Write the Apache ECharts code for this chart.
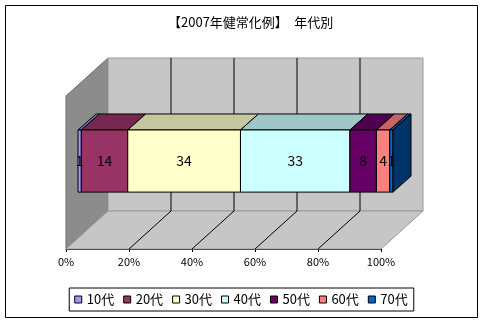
<!DOCTYPE html>
<html><head><meta charset="utf-8">
<script src="https://cdn.jsdelivr.net/npm/echarts@6/dist/echarts.min.js"></script>
<style>html,body{margin:0;padding:0;background:#fff}#c{width:482px;height:322px}</style>
</head><body><div id="c"></div>
<script>
const categories = ['10代','20代','30代','40代','50代','60代','70代'];
const values = [1, 14, 34, 33, 8, 4, 1];
const tickLabels = ['0%','20%','40%','60%','80%','100%'];
const colors = ['#9999FF','#993366','#FFFFCC','#CCFFFF','#660066','#FF8080','#0066CC'];
const titleText = '【2007年健常化例】　年代別';

const FONT = "'Noto Sans CJK JP', 'Noto Sans', sans-serif";
const total = values.reduce((a, b) => a + b, 0);
let acc = 0;
const segments = values.map(v => { const s = acc / total * 100; acc += v; return [s, acc / total * 100, v]; });

const WALL_D = [42, -38];
const BAR_SHIFT = [12, -11];
const BAR_D = [18, -16];
const BAR_Y = [0.30, 0.706];

function shade(hex, f) {
  const n = parseInt(hex.slice(1), 16);
  const r = Math.round(((n >> 16) & 255) * f), g = Math.round(((n >> 8) & 255) * f), b = Math.round((n & 255) * f);
  return 'rgb(' + r + ',' + g + ',' + b + ')';
}
function add(p, d) { return [p[0] + d[0], p[1] + d[1]]; }

const wallSeries = {
  type: 'custom', name: '_walls', z: 1, silent: true, legendHoverLink: false,
  data: [[0, 0]],
  renderItem: function (params, api) {
    const bl = api.coord([0, 0]), br = api.coord([100, 0]), tl = api.coord([0, 1]), tr = api.coord([100, 1]);
    const ch = [];
    ch.push({ type: 'polygon', shape: { points: [bl, tl, add(tl, WALL_D), add(bl, WALL_D)] }, style: { fill: '#8c8c8c', stroke: '#6a6a6a', lineWidth: 1 } });
    ch.push({ type: 'polygon', shape: { points: [add(bl, WALL_D), add(tl, WALL_D), add(tr, WALL_D), add(br, WALL_D)] }, style: { fill: '#c6c6c6', stroke: '#9a9a9a', lineWidth: 1 } });
    ch.push({ type: 'polygon', shape: { points: [bl, br, add(br, WALL_D), add(bl, WALL_D)] }, style: { fill: '#c6c6c6', stroke: '#9a9a9a', lineWidth: 1 } });
    for (let k = 1; k < tickLabels.length - 1; k++) {
      const v = k * 20;
      const f0 = api.coord([v, 0]), f1 = api.coord([v, 1]);
      ch.push({ type: 'line', shape: { x1: f0[0], y1: f0[1], x2: f0[0] + WALL_D[0], y2: f0[1] + WALL_D[1] }, style: { stroke: '#000', lineWidth: 1 } });
      ch.push({ type: 'line', shape: { x1: f0[0] + WALL_D[0], y1: f0[1] + WALL_D[1], x2: f1[0] + WALL_D[0], y2: f1[1] + WALL_D[1] }, style: { stroke: '#000', lineWidth: 1 } });
    }
    return { type: 'group', children: ch };
  }
};

const barSeries = categories.map((name, i) => ({
  type: 'custom', name: name, z: 3,
  itemStyle: { color: colors[i] },
  encode: { x: [0, 1] },
  data: [segments[i]],
  renderItem: function (params, api) {
    const s = api.value(0), e = api.value(1), v = api.value(2);
    const a = api.coord([s, BAR_Y[1]]), b = api.coord([e, BAR_Y[0]]);
    const x0 = a[0] + BAR_SHIFT[0], y0 = a[1] + BAR_SHIFT[1];
    const x1 = b[0] + BAR_SHIFT[0], y1 = b[1] + BAR_SHIFT[1];
    const dx = BAR_D[0], dy = BAR_D[1];
    const ch = [];
    ch.push({ type: 'polygon', shape: { points: [[x0, y0], [x1, y0], [x1 + dx, y0 + dy], [x0 + dx, y0 + dy]] }, style: { fill: shade(colors[i], 0.78), stroke: '#000', lineWidth: 1 } });
    ch.push({ type: 'rect', shape: { x: x0, y: y0, width: x1 - x0, height: y1 - y0 }, style: { fill: colors[i], stroke: '#000', lineWidth: 1 } });
    if (i === categories.length - 1) {
      ch.push({ type: 'polygon', shape: { points: [[x1, y0], [x1 + dx, y0 + dy], [x1 + dx, y1 + dy], [x1, y1]] }, style: { fill: shade(colors[i], 0.5), stroke: '#000', lineWidth: 1 } });
    }
    ch.push({ type: 'text', z2: 100, style: { x: (x0 + x1) / 2, y: (y0 + y1) / 2, text: String(v), fill: '#000', font: '14px ' + FONT, align: 'center', verticalAlign: 'middle' } });
    return { type: 'group', children: ch };
  }
}));

const chart = echarts.init(document.getElementById('c'), null, { renderer: 'canvas' });
chart.setOption({
  animation: false,
  backgroundColor: '#fff',
  title: { text: titleText, left: 163, top: 11, textStyle: { fontSize: 13, fontWeight: 'normal', color: '#000', fontFamily: FONT } },
  graphic: [{ type: 'rect', shape: { x: 5.5, y: 5.5, width: 472, height: 312 }, style: { fill: 'none', stroke: '#000', lineWidth: 1 }, z: -1 }],
  legend: {
    left: 'center', top: 288, icon: 'rect', itemWidth: 7, itemHeight: 7, itemGap: 9,
    padding: [5, 6, 5, 5], borderColor: '#000', borderWidth: 1,
    textStyle: { fontSize: 13, color: '#000', fontFamily: FONT },
    data: categories.map((c, i) => ({ name: c, itemStyle: { color: colors[i], borderColor: '#000', borderWidth: 1 } }))
  },
  grid: { left: 66, top: 96, width: 315, height: 153, containLabel: false },
  xAxis: {
    type: 'value', min: 0, max: 100, interval: 20,
    axisLine: { show: true, lineStyle: { color: '#000', width: 1 } },
    axisTick: { show: true, length: 3, lineStyle: { color: '#000' } },
    splitLine: { show: false },
    axisLabel: { color: '#000', fontSize: 11, fontFamily: FONT, margin: 7, formatter: v => tickLabels[Math.round(v / 20)] }
  },
  yAxis: {
    type: 'value', min: 0, max: 1,
    axisLine: { show: true, lineStyle: { color: '#000', width: 1 } },
    axisTick: { show: false }, axisLabel: { show: false }, splitLine: { show: false }
  },
  series: [wallSeries].concat(barSeries)
});
</script>
</body></html>
